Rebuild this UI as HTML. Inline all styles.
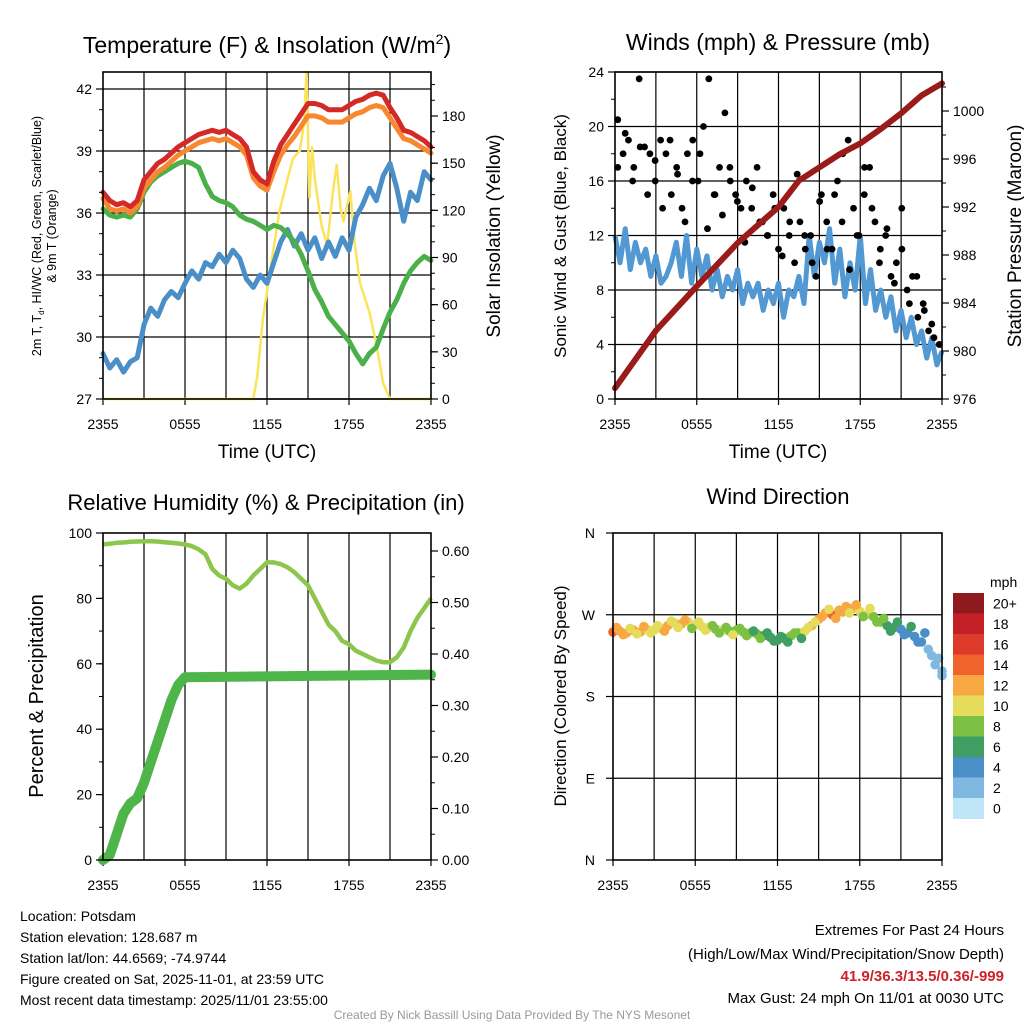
<!DOCTYPE html>
<html><head><meta charset="utf-8"><style>
html,body{margin:0;padding:0;background:#fff;}
svg{display:block;font-family:"Liberation Sans",Arial,sans-serif;}
</style></head><body>
<svg id="chart" width="1024" height="1024" viewBox="0 0 1024 1024" xmlns="http://www.w3.org/2000/svg">
<rect width="1024" height="1024" fill="#fff"/>
<g id="layer"></g>
<text x="267" y="53" font-size="23" text-anchor="middle">Temperature (F) &amp; Insolation (W/m<tspan font-size="14" dy="-9">2</tspan><tspan dy="9">)</tspan></text>
<text x="778" y="50" font-size="23" text-anchor="middle">Winds (mph) &amp; Pressure (mb)</text>
<text x="266" y="510" font-size="22" text-anchor="middle">Relative Humidity (%) &amp; Precipitation (in)</text>
<text x="778" y="504" font-size="22" text-anchor="middle">Wind Direction</text>
<text x="267" y="458" font-size="19" text-anchor="middle">Time (UTC)</text>
<text x="778" y="458" font-size="19" text-anchor="middle">Time (UTC)</text>
<text transform="translate(41,236) rotate(-90)" font-size="12.5" text-anchor="middle">2m T, T<tspan font-size="8" dy="3">d</tspan><tspan dy="-3">, HI/WC (Red, Green, Scarlet/Blue)</tspan></text>
<text transform="translate(56,236) rotate(-90)" font-size="12.5" text-anchor="middle">&amp; 9m T (Orange)</text>
<text transform="translate(500,236) rotate(-90)" font-size="19" text-anchor="middle">Solar Insolation (Yellow)</text>
<text transform="translate(566,236) rotate(-90)" font-size="17" text-anchor="middle">Sonic Wind &amp; Gust (Blue, Black)</text>
<text transform="translate(1021,236) rotate(-90)" font-size="19" text-anchor="middle">Station Pressure (Maroon)</text>
<text transform="translate(43,696) rotate(-90)" font-size="20" text-anchor="middle">Percent &amp; Precipitation</text>
<text transform="translate(566,696) rotate(-90)" font-size="17" text-anchor="middle">Direction (Colored By Speed)</text>
<g font-size="14">
<text x="20" y="921">Location: Potsdam</text>
<text x="20" y="942">Station elevation: 128.687 m</text>
<text x="20" y="963">Station lat/lon: 44.6569; -74.9744</text>
<text x="20" y="984">Figure created on Sat, 2025-11-01, at 23:59 UTC</text>
<text x="20" y="1005">Most recent data timestamp: 2025/11/01 23:55:00</text>
</g>
<g font-size="15" text-anchor="end">
<text x="1004" y="935">Extremes For Past 24 Hours</text>
<text x="1004" y="959">(High/Low/Max Wind/Precipitation/Snow Depth)</text>
<text x="1004" y="981" fill="#cc2229" font-weight="bold">41.9/36.3/13.5/0.36/-999</text>
<text x="1004" y="1003">Max Gust: 24 mph On 11/01 at 0030 UTC</text>
</g>
<text x="512" y="1019" font-size="12" fill="#999" text-anchor="middle">Created By Nick Bassill Using Data Provided By The NYS Mesonet</text>
</svg>
<script>
const xTickLabels = ["2355","0555","1155","1755","2355"];
const tempTicks = [27,30,33,36,39,42];
const solarTicks = [0,30,60,90,120,150,180];
const windTicks = [0,4,8,12,16,20,24];
const presTicks = [976,980,984,988,992,996,1000];
const rhTicks = [0,20,40,60,80,100];
const precipTicks = ["0.00","0.10","0.20","0.30","0.40","0.50","0.60"];
const dirTicks = ["N","E","S","W","N"];
const speedBins = ["0","2","4","6","8","10","12","14","16","18","20+"];
const speedColors = ["#bfe6f7","#7fb9e2","#4b8fc8","#3f9f63","#7cc143","#e4dc5a","#f7a842","#f0632b","#dd3a2b","#c21f27","#8e1a1d"];

const tempRed = [37.0,36.6,36.4,36.5,36.3,36.6,37.6,38.0,38.4,38.6,38.9,39.2,39.4,39.6,39.8,39.9,40.0,39.9,40.0,39.8,39.6,39.2,38.0,37.6,37.4,38.5,39.3,39.8,40.3,40.8,41.3,41.3,41.2,41.0,41.0,41.0,41.2,41.4,41.5,41.7,41.8,41.7,41.1,40.6,40.0,39.9,39.7,39.5,39.2];
const tempOrange = [36.7,36.2,36.1,36.2,36.0,36.3,37.2,37.6,38.0,38.2,38.5,38.8,39.0,39.2,39.4,39.5,39.6,39.5,39.6,39.4,39.2,38.8,37.7,37.3,37.1,38.0,38.8,39.3,39.7,40.2,40.7,40.7,40.6,40.4,40.4,40.4,40.6,40.8,40.9,41.1,41.2,41.1,40.6,40.1,39.6,39.5,39.3,39.1,38.9];
const tempGreen = [36.2,35.9,35.8,35.9,35.8,36.2,37.0,37.5,37.8,38.0,38.2,38.4,38.5,38.4,38.2,37.4,36.8,36.6,36.5,36.3,35.9,35.7,35.6,35.4,35.2,35.4,35.3,35.0,34.6,34.0,33.2,32.3,31.7,31.0,30.6,30.2,29.8,29.2,28.7,29.2,29.5,30.4,31.2,31.8,32.6,33.2,33.6,33.9,33.7];
const tempBlue = [29.2,28.5,28.9,28.3,28.8,29.0,30.6,31.4,31.0,31.8,32.2,31.9,32.6,33.2,32.8,33.6,33.4,34.0,33.6,34.2,33.8,32.8,32.4,33.0,32.6,33.6,34.6,35.2,34.4,35.0,34.2,34.8,33.8,34.6,33.9,34.8,34.2,35.8,36.4,37.2,36.6,37.8,38.4,37.2,35.6,37.0,36.6,38.0,37.6];
const solarHours = [0,11.0,11.3,11.7,12.2,12.9,13.5,13.9,14.4,14.7,14.9,15.1,15.3,15.5,16.0,16.4,16.8,17.1,17.4,17.6,18.1,18.4,18.8,19.5,20.0,20.5,21.0,24];
const solarVals = [0,0,15,51,80,119,140,153,158,175,208,128,160,140,110,98,130,149,120,113,132,100,74,55,35,10,0,0];

const windSust = [12,10,12.5,9.5,11.5,10,11,9,10.5,8.5,9,10,11.5,9,12,8.5,11,9,10.5,8,9.5,7.5,9,8,9.5,7,8.5,7.5,8.5,6.5,8,7,8.5,6,8,7.5,9,7,12,9,11.5,10,12.5,8.5,11,7.5,10,8,12,7,9.5,6.5,8,6,7.5,5,6.5,4.5,6,4,5,3,4.5,2.5,3.5];
const windGust = [20.5,18,19,17,23.5,18.5,18,16,19,18,15,17,14,18,19,16,20,23.5,15,17,21,16,15,14,16,14,17,13,12,15,11,14,12,10,13,11,12,9,15,13,11,16,18,19,14,12,15,17,13,11,12,9,10,14,8,9,6,7,5,4.5,4];
const windGust2 = [17,19.5,16,18.5,15,17.5,14,19,16.5,13,16,18,12.5,15,13.5,17,14.5,11.5,15.5,13,12,14,10.5,13,16.5,12,10,14.5,11,15,13,9.5,12,17,14,10,12.5,8.5,11,7,9,6.5,5.5,4];
const presHours = [0,3,6,9,12,13.5,15,16.5,18,19.5,21,22.5,24];
const presVals = [976.9,981.7,985.4,989.0,992.0,994.2,995.3,996.4,997.3,998.5,999.8,1001.3,1002.3];

const rhVals = [96.5,96.7,97,97.1,97.3,97.4,97.5,97.5,97.4,97.2,97,96.8,96.5,96,95,93.5,89,87,86,84,83,84.5,87,89,91,91,90.5,89.5,88,86,84,80,76,72,70,67,66,64,63,62,61,60.5,60.5,62,65,70,74,77,80];
const precipHours = [0,0.5,1,1.5,2,2.5,3,3.5,4,4.5,5,5.5,6,24];
const precipVals = [0,0.01,0.05,0.09,0.11,0.12,0.15,0.19,0.23,0.27,0.31,0.34,0.355,0.36];

const dirVals = [251,252,250,253,251,254,253,255,258,261,260,262,259,257,256,254,253,252,253,251,250,249,247,245,242,244,247,250,252,258,265,272,270,275,279,277,274,270,268,262,258,256,254,250,246,240,232,215,203];
const dirSpeed = [15,13,12,12.5,12,11,10.5,11.5,12,11.5,12.5,11,11,10,10.5,9.5,10,9,9.5,8.5,8,8.5,7,7.5,6.5,7.5,8,9,11,12,12.5,13,14,12,13,12.5,10.5,11,9.5,8,7.5,6.5,5.5,5,4.5,5,3.5,3,2.5];
const dirVals2 = [256,248,255,249,257,250,258,252,263,256,264,255,262,253,258,250,256,248,255,247,252,244,250,241,246,240,250,244,256,262,268,276,266,273,272,281,268,277,262,266,252,262,248,257,240,250,225,222,208];
const dirSpeed2 = [12,12.5,11,10.5,12,10,11,12,11,10.5,12,9.5,10,10.5,9,9.5,8.5,10,8,9,7.5,8,6.5,7,7.5,6,8.5,7,10,11.5,13,11,12,13.5,11,12,9,10,8,9,6.5,7,5,6,4,5,3,2.5,2];

const NS = "http://www.w3.org/2000/svg";
const layer = document.getElementById("layer");
function mk(tag, attrs, parent){ const e = document.createElementNS(NS, tag); for (const k in attrs) e.setAttribute(k, attrs[k]); (parent||layer).appendChild(e); return e; }
function lin(d0,d1,r0,r1){ return v => r0 + (v-d0)*(r1-r0)/(d1-d0); }
function hoursOf(arr){ return arr.map((_,i)=> i*24/(arr.length-1)); }
function pathD(xs, ys, fx, fy){ return xs.map((x,i)=> (i?"L":"M")+fx(x).toFixed(1)+","+fy(ys[i]).toFixed(1)).join(""); }

function panel(name, x0, x1, y0, y1, hGrid, fy){
  const g = mk("g", {});
  
  
  const fx = lin(0,24,x0,x1);
  for (let h=3; h<24; h+=3) {
    const l = mk("line", {x1:fx(h), x2:fx(h), y1:y0, y2:y1, stroke:"#000", "stroke-width":1.2}, g);
    
    
  }
  hGrid.forEach(v => {
    const l = mk("line", {x1:x0, x2:x1, y1:fy(v), y2:fy(v), stroke:"#000", "stroke-width":1.2}, g);
    
    
  });
  xTickLabels.forEach((t,i) => {
    const h = i*6;
    mk("line", {x1:fx(h), x2:fx(h), y1:y1, y2:y1+6, stroke:"#000", "stroke-width":1.2}, g);
    const tx = mk("text", {x:fx(h), y:y1+30, "font-size":14, "text-anchor":"middle"}, g);
    tx.textContent = t;
    
    
  });
  return {g, fx};
}
function frame(g,x0,x1,y0,y1){ const r = mk("rect",{x:x0,y:y0,width:x1-x0,height:y1-y0,fill:"none",stroke:"#000","stroke-width":1.6},g);   }
function yTicks(g, ticks, labels, fy, x, side, minorStep, dmin, dmax){
  if (minorStep) for (let v=dmin; v<=dmax+1e-9; v+=minorStep) mk("line",{x1:x, x2:x+side*4, y1:fy(v), y2:fy(v), stroke:"#000","stroke-width":1},g);
  ticks.forEach((v,i)=>{
    mk("line",{x1:x, x2:x+side*7, y1:fy(v), y2:fy(v), stroke:"#000","stroke-width":1.2},g);
    const t = mk("text",{x:x+side*11, y:fy(v)+5, "font-size":14, "text-anchor": side<0?"end":"start"},g);
    t.textContent = labels[i];
    
    
  });
}

// Panel 1: temperature
{
  const x0=103,x1=431,y0=72,y1=399;
  const fy = lin(27,42,399,89), fs = lin(0,180,399,116);
  const {g,fx} = panel("temperature-panel",x0,x1,y0,y1,tempTicks,fy);
  const hrs = hoursOf(tempRed);
  const s = mk("path",{d:pathD(solarHours,solarVals,fx,fs),fill:"none",stroke:"#fbe45b","stroke-width":2.5,"stroke-linejoin":"round"},g);
   
  [[tempBlue,"#4a8fc8","dewpoint-line"],[tempGreen,"#4bb04a","heat-index-line"],[tempOrange,"#f7882f","temp-9m-line"],[tempRed,"#d42a27","temp-2m-line"]].forEach(([arr,c,n])=>{
    const p = mk("path",{d:pathD(hrs,arr,fx,fy),fill:"none",stroke:c,"stroke-width":5,"stroke-linejoin":"round","stroke-linecap":"round"},g);
     
  });
  frame(g,x0,x1,y0,y1);
  yTicks(g,tempTicks,tempTicks.map(String),fy,x0,-1,1,27,42);
  yTicks(g,solarTicks,solarTicks.map(String),fs,x1,1,10,0,200);
}
// Panel 2: winds
{
  const x0=615,x1=942,y0=72,y1=399;
  const fy = lin(0,24,399,72), fp = lin(976,1000,399,111);
  const {g,fx} = panel("winds-panel",x0,x1,y0,y1,windTicks,fy);
  const p = mk("path",{d:pathD(hoursOf(windSust),windSust,fx,fy),fill:"none",stroke:"#5298d2","stroke-width":5,"stroke-linejoin":"round"},g);
   
  [windGust,windGust2].forEach(arr=>{
    const hr = arr.map((_,i)=> 0.2 + i*23.6/(arr.length-1));
    arr.forEach((v,i)=>{
      const c = mk("circle",{cx:fx(hr[i]),cy:fy(v),r:3.4,fill:"#000"},g);
       
    });
  });
  const pr = mk("path",{d:pathD(presHours,presVals,fx,fp),fill:"none",stroke:"#9b1b1b","stroke-width":6,"stroke-linejoin":"round","stroke-linecap":"round"},g);
   
  frame(g,x0,x1,y0,y1);
  yTicks(g,windTicks,windTicks.map(String),fy,x0,-1,2,0,24);
  yTicks(g,presTicks,presTicks.map(String),fp,x1,1,2,976,1002);
}
// Panel 3: RH
{
  const x0=103,x1=431,y0=533,y1=860;
  const fy = lin(0,100,860,533), fpr = lin(0,0.6,860,551);
  const {g,fx} = panel("humidity-panel",x0,x1,y0,y1,[],fy);
  const r = mk("path",{d:pathD(hoursOf(rhVals),rhVals,fx,fy),fill:"none",stroke:"#8dc64c","stroke-width":4.5,"stroke-linejoin":"round"},g);
   
  const pp = mk("path",{d:pathD(precipHours,precipVals,fx,fpr),fill:"none",stroke:"#4db549","stroke-width":10,"stroke-linejoin":"round","stroke-linecap":"round"},g);
   
  frame(g,x0,x1,y0,y1);
  yTicks(g,rhTicks,rhTicks.map(String),fy,x0,-1,10,0,100);
  yTicks(g,precipTicks.map(Number),precipTicks,fpr,x1,1,0.05,0,0.6);
}
// Panel 4: direction
{
  const x0=613,x1=942,y0=533,y1=860;
  const fy = lin(0,360,860,533);
  const {g,fx} = panel("direction-panel",x0,x1,y0,y1,[90,180,270],fy);
  [[dirVals,dirSpeed,0],[dirVals2,dirSpeed2,0.25]].forEach(([dv,sp,off])=>{
    dv.forEach((d,i)=>{
      const h = Math.min(24, off + i*24/(dv.length-1));
      const bin = Math.min(10, Math.max(0, Math.floor(sp[i]/2)));
      const c = mk("circle",{cx:fx(h),cy:fy(d),r:4.8,fill:speedColors[bin]},g);
       
    });
  });
  frame(g,x0,x1,y0,y1);
  dirTicks.forEach((t,i)=>{
    const v = i*90;
    mk("line",{x1:x0,x2:x0-7,y1:fy(v),y2:fy(v),stroke:"#000","stroke-width":1.2},g);
    const tx = mk("text",{x:x0-18,y:fy(v)+5,"font-size":14,"text-anchor":"end"},g);
    tx.textContent = t;
     
  });
  const cb = mk("g",{});
   
  const cy0 = 593, bh = 20.5;
  const u = mk("text",{x:990,y:587,"font-size":14},cb); u.textContent="mph";
   
  speedBins.slice().reverse().forEach((lab,i)=>{
    const col = speedColors[speedColors.length-1-i];
    const rr = mk("rect",{x:953,y:cy0+i*bh,width:31,height:bh+0.5,fill:col},cb);
     
    const t = mk("text",{x:993,y:cy0+i*bh+bh/2+5,"font-size":14},cb); t.textContent = lab;
     
  });
}
</script>
</body></html>
